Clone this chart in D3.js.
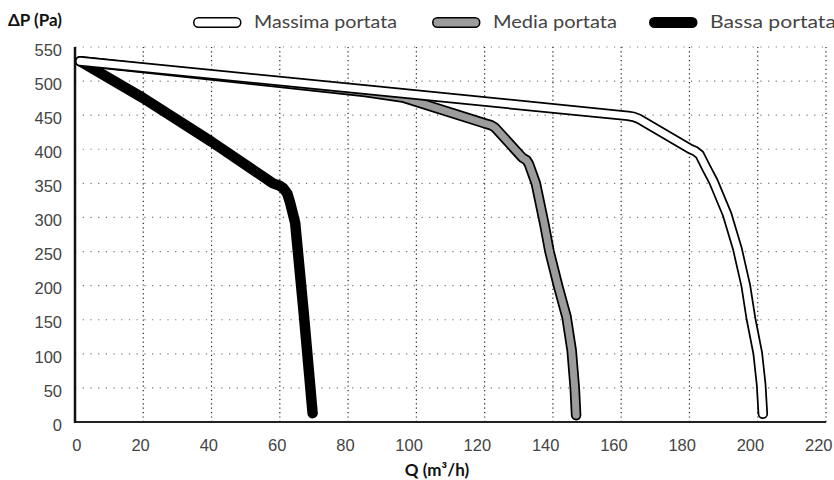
<!DOCTYPE html>
<html>
<head>
<meta charset="utf-8">
<script src="https://cdn.jsdelivr.net/npm/d3@7"></script>
<style>
  body { margin: 0; background: #fff; }
  svg { font-family: Lato, "Noto Sans", sans-serif; }
</style>
</head>
<body>
<div id="chart"></div>
<script>
// Fan curves: pressure drop vs air flow, three speeds

// Series names and curve points [Q (m3/h), dP (Pa)]
let seriesNames = ["Massima portata", "Media portata", "Bassa portata"];

let massima = [[1.5, 529], [90, 485], [162, 449], [163.6, 447.6], [165, 445], [180, 401],
    [181.6, 397.5], [183, 392], [185, 372], [187, 353], [191, 305], [194, 255],
    [196.5, 200], [198, 152], [200, 101], [201, 55], [201.5, 12]];

let media = [[1.5, 529], [85, 484], [96, 476], [120, 438], [121.8, 435.5], [123, 432],
    [131, 388], [132.3, 384], [133, 378], [135, 350], [137.5, 290], [139, 250],
    [141.5, 200], [144, 154], [145.5, 105], [146.4, 50], [146.8, 10]];

let bassa = [[1.5, 529], [20, 475], [40, 411], [58, 350], [59.8, 347], [61, 343],
    [62.2, 335], [63, 322], [64.5, 292], [67, 160], [69.6, 13]];

let xTicks = [0, 20, 40, 60, 80, 100, 120, 140, 160, 180, 200, 220];
let yTicks = [0, 50, 100, 150, 200, 250, 300, 350, 400, 450, 500, 550];

let width = 834,
    height = 480;

let svg = d3.select("#chart")
    .append("svg")
    .attr("width", width)
    .attr("height", height);

// Scales
let x = d3.scaleLinear().domain([0, 220]).range([75, 826]);
let y = d3.scaleLinear().domain([0, 550]).range([422, 47]);

// Dotted grid
svg.append("g").selectAll("line")
    .data(yTicks.slice(1))
    .join("line")
    .attr("x1", x(0)).attr("x2", x(220))
    .attr("y1", d => y(d)).attr("y2", d => y(d))
    .attr("stroke", "#777")
    .attr("stroke-width", 1.2)
    .attr("stroke-dasharray", "1.2,6.5");

svg.append("g").selectAll("line")
    .data(xTicks.slice(1))
    .join("line")
    .attr("x1", d => x(d)).attr("x2", d => x(d))
    .attr("y1", y(0)).attr("y2", y(550))
    .attr("stroke", "#222")
    .attr("stroke-width", 1.2)
    .attr("stroke-dasharray", "1.2,3.2");

// Axis lines
svg.append("line")
    .attr("x1", x(0)).attr("x2", x(220))
    .attr("y1", y(0)).attr("y2", y(0))
    .attr("stroke", "#222").attr("stroke-width", 2);

svg.append("line")
    .attr("x1", x(0)).attr("x2", x(0))
    .attr("y1", y(0) + 1).attr("y2", y(550))
    .attr("stroke", "#111").attr("stroke-width", 2.5);

// Tick labels
let xAxis = svg.append("g")
    .attr("transform", `translate(0,${y(0) + 17})`)
    .call(d3.axisBottom(x).tickValues(xTicks).tickSize(0).tickPadding(0));
xAxis.select(".domain").remove();
xAxis.selectAll("text")
    .attr("text-anchor", "end")
    .attr("x", 6)
    .attr("fill", "#444")
    .style("font-size", "16.5px");

let yAxis = svg.append("g")
    .attr("transform", `translate(62,0)`)
    .call(d3.axisLeft(y).tickValues(yTicks).tickSize(0).tickPadding(0));
yAxis.select(".domain").remove();
yAxis.selectAll("text")
    .attr("x", 0)
    .attr("dy", "0.5em")
    .attr("fill", "#444")
    .style("font-size", "16.5px");

// Axis titles
svg.append("text")
    .attr("x", 8).attr("y", 26)
    .attr("font-weight", "bold")
    .style("font-size", "17px")
    .attr("fill", "#111")
    .text("ΔP (Pa)");

svg.append("text")
    .attr("x", 437).attr("y", 476)
    .attr("text-anchor", "middle")
    .attr("font-weight", "bold")
    .style("font-size", "17px")
    .attr("fill", "#111")
    .text("Q (m³/h)");

// Curves: black outline stroke with a coloured stroke on top
let line = d3.line()
    .x(d => x(d[0]))
    .y(d => y(d[1]));

let curves = [
    { data: bassa, fill: "#000" },
    { data: media, fill: "#9c9c9c" },
    { data: massima, fill: "#fff" }
];

curves.forEach(function (c) {
    svg.append("path")
        .datum(c.data)
        .attr("fill", "none")
        .attr("stroke", "#000")
        .attr("stroke-width", 10.5)
        .attr("stroke-linejoin", "round")
        .attr("stroke-linecap", "round")
        .attr("d", line);
    svg.append("path")
        .datum(c.data)
        .attr("fill", "none")
        .attr("stroke", c.fill)
        .attr("stroke-width", 7)
        .attr("stroke-linejoin", "round")
        .attr("stroke-linecap", "round")
        .attr("d", line);
});

// Legend
let legendX = [193, 432, 649];
let legendFill = ["#fff", "#9c9c9c", "#000"];
let legendTextW = [143, 124, 126];

let legend = svg.append("g").selectAll("g")
    .data(seriesNames)
    .join("g")
    .attr("transform", (d, i) => `translate(${legendX[i]},17)`);

legend.append("rect")
    .attr("x", 0.75).attr("y", 0.75)
    .attr("width", 47).attr("height", 9.5)
    .attr("rx", 4.75)
    .attr("fill", (d, i) => legendFill[i])
    .attr("stroke", "#000")
    .attr("stroke-width", 1.5);

legend.append("text")
    .attr("x", 61).attr("y", 11)
    .attr("textLength", (d, i) => legendTextW[i])
    .attr("lengthAdjust", "spacingAndGlyphs")
    .style("font-size", "17px")
    .attr("fill", "#444")
    .text(d => d);
</script>
</body>
</html>
